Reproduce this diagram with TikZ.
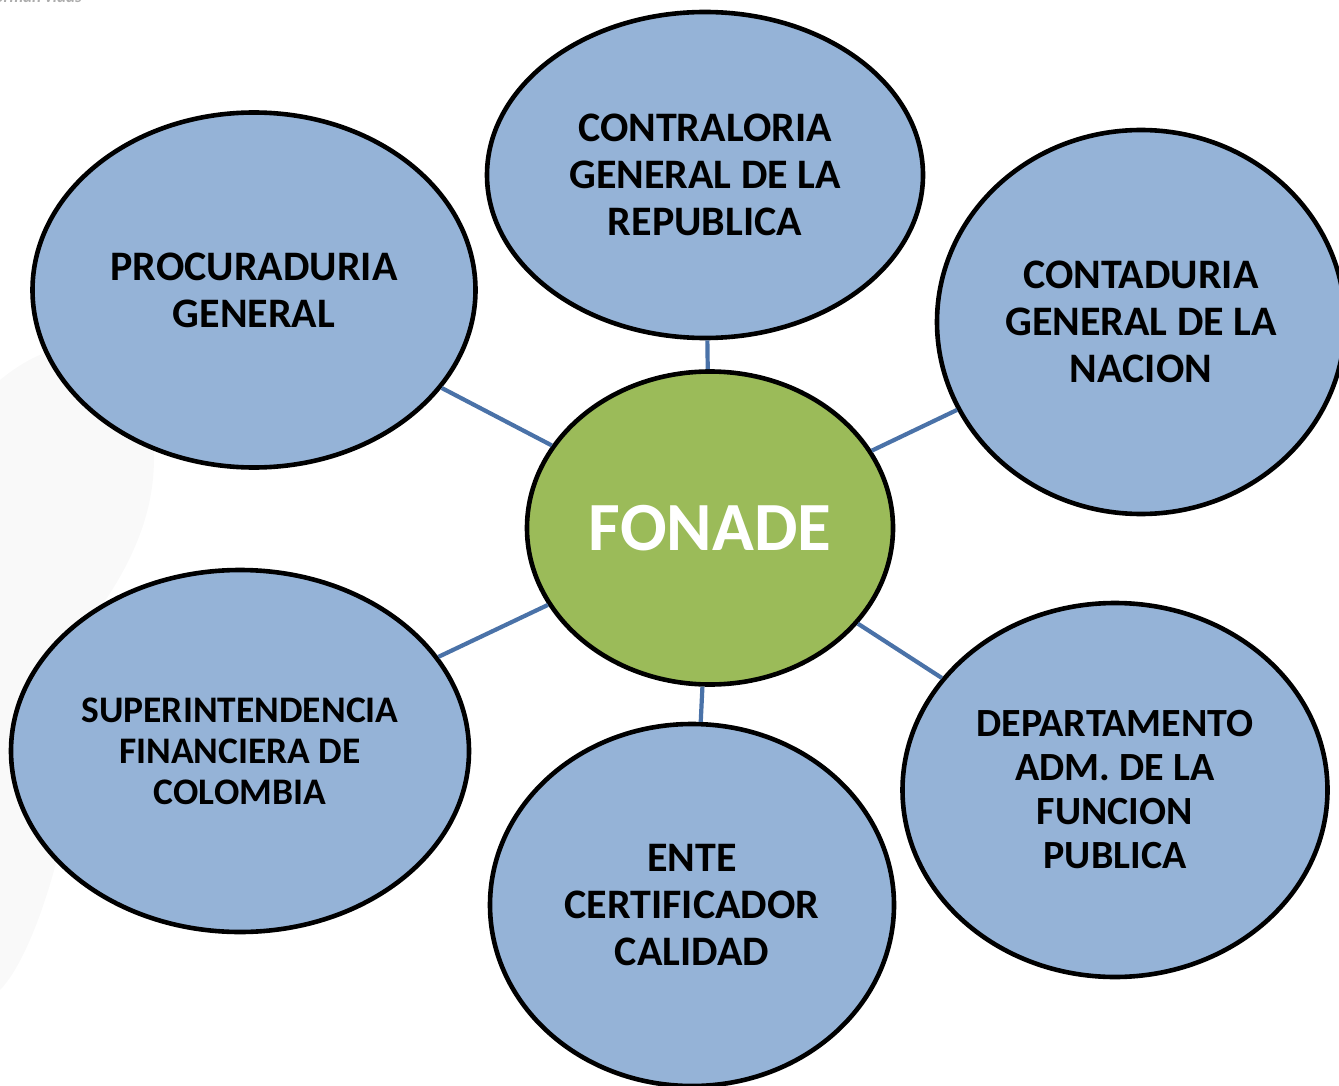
\documentclass[tikz,border=0pt]{standalone}
\usepackage{fontspec}
\setmainfont{Carlito}
\usetikzlibrary{shapes.geometric}
\definecolor{bubble}{HTML}{95B3D7}
\definecolor{core}{HTML}{9BBB59}
\definecolor{link}{HTML}{4A72A8}
\tikzset{
  bub/.style={ellipse, draw=black, line width=4.6pt, fill=bubble, inner sep=0pt,
    align=center, font=\fontsize{42}{47}\selectfont\bfseries, text=black},
  hub/.style={ellipse, draw=black, line width=4.6pt, fill=core, inner sep=0pt,
    align=center, font=\fontsize{69}{72}\selectfont\bfseries, text=white},
  conn/.style={draw=link, line width=4.2pt}
}
\begin{document}
\begin{tikzpicture}[x=1pt,y=-1pt]
\useasboundingbox (0,0) rectangle (1339,1086);
\begin{scope}
\clip (0,0) rectangle (1339,1086);
% faint watermark
\fill[gray!5] (0,380) .. controls (60,330) and (130,330) .. (150,420) .. controls (170,520) and (110,600) .. (60,660) .. controls (20,700) and (0,700) .. (0,700) -- cycle;
\fill[gray!5] (0,600) .. controls (40,580) and (90,620) .. (80,720) .. controls (70,850) and (30,960) .. (0,990) -- cycle;
\node[anchor=base east, inner sep=0pt, text=gray!65, font=\fontsize{17}{17}\selectfont\bfseries\itshape] (slogan) at (82,3) {transforman vidas};
\node[hub, minimum width=366pt, minimum height=313pt] (fonade) at (710,528) {FONADE};
\node[bub, minimum width=436pt, minimum height=326pt] (contraloria) at (705,175) {CONTRALORIA\\GENERAL DE LA\\REPUBLICA};
\node[bub, minimum width=443pt, minimum height=355pt] (procuraduria) at (254,290) {PROCURADURIA\\GENERAL};
\node[bub, minimum width=408pt, minimum height=384pt] (contaduria) at (1141,322) {CONTADURIA\\GENERAL DE LA\\NACION};
\node[bub, minimum width=458pt, minimum height=362pt, font=\fontsize{37.5}{41}\selectfont\bfseries] (superintendencia) at (240,751) {SUPERINTENDENCIA\\FINANCIERA DE\\COLOMBIA};
\node[bub, minimum width=404pt, minimum height=362pt] (ente) at (692,905) {ENTE\\CERTIFICADOR\\CALIDAD};
\node[bub, minimum width=425pt, minimum height=374pt, font=\fontsize{40}{44}\selectfont\bfseries] (departamento) at (1115,790) {DEPARTAMENTO\\ADM. DE LA\\FUNCION\\PUBLICA};
% connectors
\draw[conn] (fonade) -- (contraloria);
\draw[conn] (fonade) -- (procuraduria);
\draw[conn] (fonade) -- (contaduria);
\draw[conn] (fonade) -- (superintendencia);
\draw[conn] (fonade) -- (ente);
\draw[conn] (fonade) -- (departamento);
\end{scope}
\end{tikzpicture}
\end{document}
